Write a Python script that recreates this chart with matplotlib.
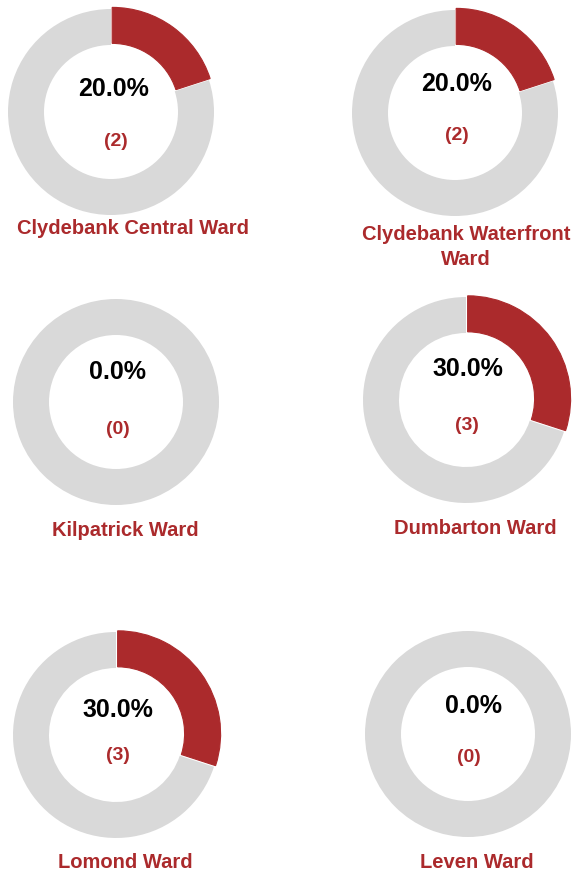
import matplotlib.pyplot as plt

wards = ["Clydebank Central Ward", "Clydebank Waterfront\nWard", "Kilpatrick Ward",
         "Dumbarton Ward", "Lomond Ward", "Leven Ward"]
shares = [20.0, 20.0, 0.0, 30.0, 30.0, 0.0]
counts = [2, 2, 0, 3, 3, 0]

RED = "#AB2A2C"
GREY = "#D9D9D9"
W, H = 575, 875

# donut centres and text positions, in pixels from the top left
centres = [(111, 112), (455, 113), (116, 402), (466, 400), (116, 735), (468, 734)]
pct_pos = [(114, 89), (457, 84), (118, 372), (468, 369), (118, 710), (473, 706)]
cnt_pos = [(116, 142), (457, 136), (118, 430), (467, 425), (118, 756), (469, 757)]
lab_pos = [(133, 228), (466, 247), (125, 530), (475, 528), (125, 863), (477, 862)]

plt.rcParams['font.family'] = ['Liberation Sans', 'DejaVu Sans']

fig = plt.figure(figsize=(W / 100, H / 100), dpi=100)
ax = fig.add_axes([0, 0, 1, 1])
ax.set_xlim(0, W)
ax.set_ylim(0, H)
ax.set_aspect('equal')
ax.axis('off')

R = 103
ring = 36

for i, ward in enumerate(wards):
    cx, cy = centres[i]
    vals = [shares[i], 100 - shares[i]]
    boom = 2 if shares[i] > 0 else 0
    wedges, _ = ax.pie(vals, center=(cx, H - cy), radius=R, startangle=90,
                       counterclock=False, colors=[RED, GREY],
                       explode=[boom, 0], normalize=True,
                       wedgeprops=dict(width=ring, linewidth=0))
    # thin red tick for empty slices, like the source
    if shares[i] == 0:
        wedges[0].set_edgecolor(RED)
        wedges[0].set_linewidth(0.6)
        wedges[0].set_alpha(0.6)
    else:
        wedges[0].set_edgecolor(RED)
        wedges[0].set_linewidth(0.8)

    px, py = pct_pos[i]
    ax.text(px, H - py, f"{shares[i]:.1f}%", ha='center', va='center',
            fontsize=18, fontweight='bold', color='black')
    qx, qy = cnt_pos[i]
    ax.text(qx, H - qy, f"({counts[i]})", ha='center', va='center',
            fontsize=14, fontweight='bold', color=RED)
    lx, ly = lab_pos[i]
    ax.text(lx, H - ly, ward, ha='center', va='center', fontsize=14.5,
            fontweight='bold', color=RED, linespacing=1.45)

ax.set_xlim(0, W)
ax.set_ylim(0, H)

fig.savefig("out.png", dpi=100)
